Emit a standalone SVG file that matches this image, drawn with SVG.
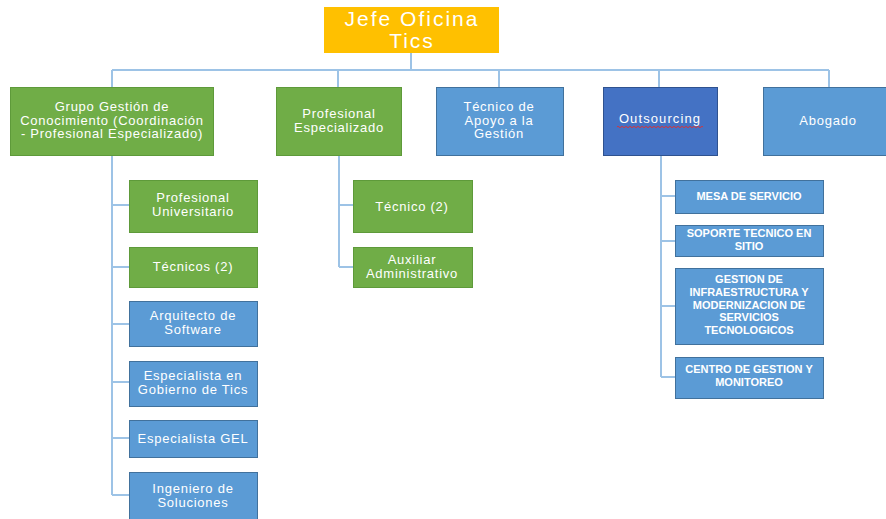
<svg xmlns="http://www.w3.org/2000/svg" width="886" height="519" viewBox="0 0 886 519">
<style>
.g{fill:#70AD47;stroke:#5E9A3A;stroke-width:1}
.b{fill:#5B9BD5;stroke:#41719C;stroke-width:1}
.d{fill:#4472C4;stroke:#2F528F;stroke-width:1}
.y{fill:#FFC000}
text{font-family:"Liberation Sans",Arial,sans-serif;fill:#fff;text-anchor:middle}
.t14{font-size:13px;letter-spacing:0.75px}
.t23{font-size:21px;letter-spacing:2px}
.s{font-size:11px;font-weight:bold}
.c{fill:none;stroke:#9DC3E6;stroke-width:2}
</style>
<rect width="886" height="519" fill="#fff"/>
<g id="connectors">
<path class="c" d="M411 53V70M112 70H829M112 70V87M338 70V87M499 70V87M659 70V87M829 70V87"/>
<path class="c" d="M112 155V495M112 205H129M112 267H129M112 324H129M112 382H129M112 438H129M112 495H129"/>
<path class="c" d="M339 155V267M339 205H353M339 267H353"/>
<path class="c" d="M661 155V377M661 196H675M661 241H675M661 306H675M661 377H675"/>
</g>
<g id="jefe"><rect class="y" x="324" y="7" width="175" height="46"/><text class="t23" x="412" y="26">Jefe Oficina</text><text class="t23" x="412" y="48">Tics</text></g>
<g id="grupo"><rect class="g" x="10.5" y="87.5" width="203" height="68"/><text class="t14" x="112" y="111">Grupo Gestión de</text><text class="t14" x="112" y="124.5">Conocimiento (Coordinación</text><text class="t14" x="112" y="138">- Profesional Especializado)</text></g>
<g id="profesional"><rect class="g" x="276.5" y="87.5" width="125" height="68"/><text class="t14" x="339" y="118">Profesional</text><text class="t14" x="339" y="131.5">Especializado</text></g>
<g id="tecnico-apoyo"><rect class="b" x="436.5" y="87.5" width="127" height="68"/><text class="t14" x="499" y="111">Técnico de</text><text class="t14" x="499" y="124.5">Apoyo a la</text><text class="t14" x="499" y="138">Gestión</text></g>
<g id="outsourcing"><rect class="d" x="603.5" y="87.5" width="114" height="68"/><text class="t14" x="660" y="123" style="letter-spacing:1.1px">Outsourcing</text><path d="M617 127q1-1.5 2 0t2 0t2 0t2 0t2 0t2 0t2 0t2 0t2 0t2 0t2 0t2 0t2 0t2 0t2 0t2 0t2 0t2 0t2 0t2 0t2 0t2 0t2 0t2 0t2 0t2 0t2 0t2 0t2 0t2 0t2 0t2 0t2 0t2 0t2 0t2 0t2 0t2 0t2 0t2 0t2 0t2 0t2 0" fill="none" stroke="#E03030" stroke-width="0.9"/></g>
<g id="abogado"><rect class="b" x="763.5" y="87.5" width="124" height="68"/><text class="t14" x="828" y="125">Abogado</text></g>
<g id="prof-univ"><rect class="g" x="129.5" y="180.5" width="128" height="52"/><text class="t14" x="193" y="202">Profesional</text><text class="t14" x="193" y="215.5">Universitario</text></g>
<g id="tecnicos2"><rect class="g" x="129.5" y="247.5" width="128" height="40"/><text class="t14" x="193" y="271">Técnicos  (2)</text></g>
<g id="arquitecto"><rect class="b" x="129.5" y="301.5" width="128" height="45"/><text class="t14" x="193" y="320">Arquitecto de</text><text class="t14" x="193" y="333.5">Software</text></g>
<g id="esp-gob"><rect class="b" x="129.5" y="361.5" width="128" height="45"/><text class="t14" x="193" y="380">Especialista en</text><text class="t14" x="193" y="393.5">Gobierno de Tics</text></g>
<g id="esp-gel"><rect class="b" x="129.5" y="420.5" width="128" height="37"/><text class="t14" x="193" y="443">Especialista GEL</text></g>
<g id="ingeniero"><rect class="b" x="129.5" y="472.5" width="128" height="52"/><text class="t14" x="193" y="493">Ingeniero de</text><text class="t14" x="193" y="506.5">Soluciones</text></g>
<g id="tecnico2"><rect class="g" x="353.5" y="180.5" width="119" height="52"/><text class="t14" x="412" y="211">Técnico (2)</text></g>
<g id="auxiliar"><rect class="g" x="353.5" y="247.5" width="119" height="40"/><text class="t14" x="412" y="264">Auxiliar</text><text class="t14" x="412" y="277.5">Administrativo</text></g>
<g id="mesa"><rect class="b" x="675.5" y="180.5" width="148" height="33"/><text class="s" x="749" y="199.5">MESA DE SERVICIO</text></g>
<g id="soporte"><rect class="b" x="675.5" y="225.5" width="148" height="31"/><text class="s" x="749" y="237">SOPORTE TECNICO EN</text><text class="s" x="749" y="249.5">SITIO</text></g>
<g id="gestion"><rect class="b" x="675.5" y="268.5" width="148" height="76"/><text class="s" x="749" y="283">GESTION DE</text><text class="s" x="749" y="296">INFRAESTRUCTURA Y</text><text class="s" x="749" y="308.5">MODERNIZACION DE</text><text class="s" x="749" y="321">SERVICIOS</text><text class="s" x="749" y="334">TECNOLOGICOS</text></g>
<g id="centro"><rect class="b" x="675.5" y="357.5" width="148" height="41"/><text class="s" x="749" y="373">CENTRO DE GESTION Y</text><text class="s" x="749" y="385.5">MONITOREO</text></g>
</svg>
